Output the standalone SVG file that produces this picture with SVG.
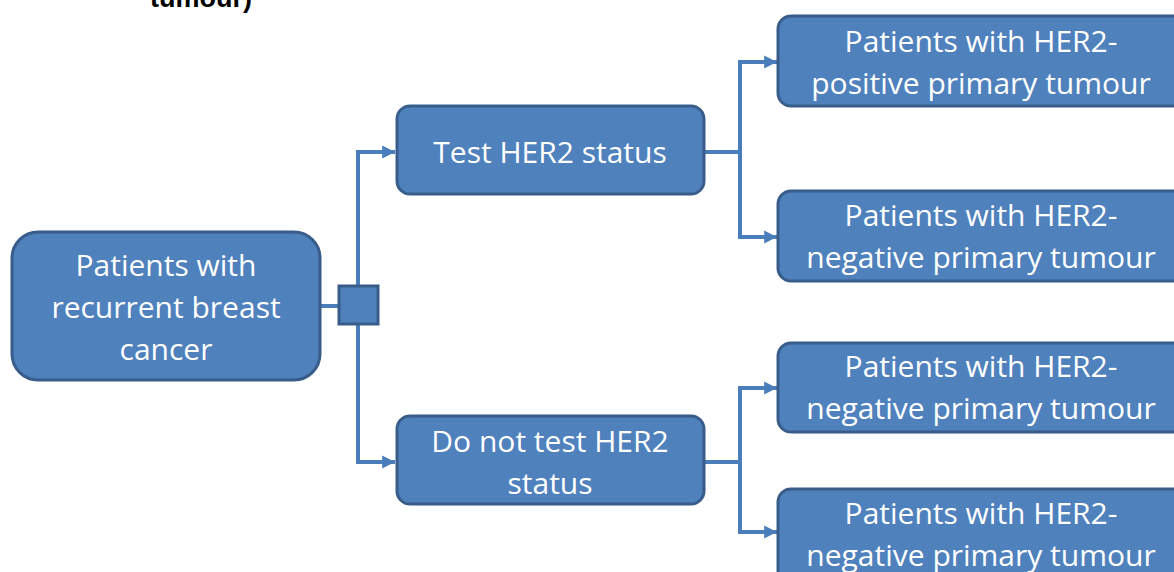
<svg xmlns="http://www.w3.org/2000/svg" width="1174" height="572" viewBox="0 0 1174 572">
<style>
.box{fill:#4F81BD;stroke:#385D8A;stroke-width:3}
.t{fill:#FFFFFF;font-family:"Open Sans","Liberation Sans",sans-serif;font-size:30px;text-anchor:middle}
.ln{fill:none;stroke:#4A7EBB;stroke-width:4}
</style>
<defs>
<marker id="ah" markerWidth="4" markerHeight="4" refX="3.2" refY="2" orient="auto" markerUnits="strokeWidth">
<path d="M0,0.4 L3.2,2 L0,3.6 Z" fill="#4A7EBB"/>
</marker>
</defs>
<text x="201" y="7" font-family="'Liberation Sans',sans-serif" font-weight="bold" font-size="27" text-anchor="middle" fill="#000">tumour)</text>
<g id="connectors">
<path class="ln" d="M320,306 H340"/>
<path class="ln" d="M358,306 V152 H395" marker-end="url(#ah)"/>
<path class="ln" d="M358,306 V462 H395" marker-end="url(#ah)"/>
<path class="ln" d="M704,152 H740"/>
<path class="ln" d="M740,152 V62 H777" marker-end="url(#ah)"/>
<path class="ln" d="M740,152 V237 H777" marker-end="url(#ah)"/>
<path class="ln" d="M704,462 H740"/>
<path class="ln" d="M740,462 V388 H777" marker-end="url(#ah)"/>
<path class="ln" d="M740,462 V532 H777" marker-end="url(#ah)"/>
</g>
<g id="decision">
<rect x="339" y="286" width="39" height="38" fill="#4F81BD" stroke="#385D8A" stroke-width="3"/>
</g>
<g id="n-start">
<rect class="box" x="12" y="232" width="308" height="148" rx="26"/>
<text class="t" x="166" y="276">Patients with</text>
<text class="t" x="166" y="318">recurrent breast</text>
<text class="t" x="166" y="360">cancer</text>
</g>
<g id="n-test">
<rect class="box" x="397" y="106" width="307" height="88" rx="13"/>
<text class="t" x="550" y="163">Test HER2 status</text>
</g>
<g id="n-notest">
<rect class="box" x="397" y="416" width="307" height="88" rx="13"/>
<text class="t" x="550" y="452">Do not test HER2</text>
<text class="t" x="550" y="494">status</text>
</g>
<g id="n-pos">
<rect class="box" x="778" y="16" width="410" height="90" rx="13"/>
<text class="t" x="981" y="52">Patients with HER2-</text>
<text class="t" x="981" y="94">positive primary tumour</text>
</g>
<g id="n-neg1">
<rect class="box" x="778" y="191" width="410" height="90" rx="13"/>
<text class="t" x="981" y="226">Patients with HER2-</text>
<text class="t" x="981" y="268">negative primary tumour</text>
</g>
<g id="n-neg2">
<rect class="box" x="778" y="343" width="410" height="89" rx="13"/>
<text class="t" x="981" y="377">Patients with HER2-</text>
<text class="t" x="981" y="419">negative primary tumour</text>
</g>
<g id="n-neg3">
<rect class="box" x="778" y="489" width="410" height="95" rx="13"/>
<text class="t" x="981" y="524">Patients with HER2-</text>
<text class="t" x="981" y="566">negative primary tumour</text>
</g>
</svg>
